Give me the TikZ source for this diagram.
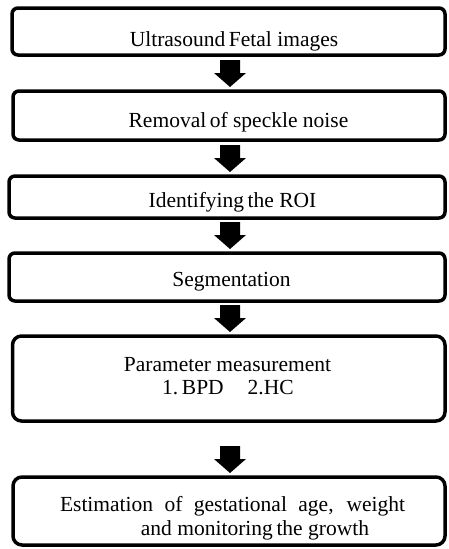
\documentclass[tikz,border=0pt]{standalone}
\usepackage{fontspec}
\setmainfont{Liberation Serif}
\usetikzlibrary{calc}
\tikzset{
  box/.style={draw=black, line width=3.5pt, rounded corners=6pt, inner sep=0pt, outer sep=0pt, fill=white},
  bigbox/.style={box, rounded corners=9pt},
  lbl/.style={anchor=base, inner sep=0pt, outer sep=0pt, font=\fontsize{21.5}{24}\selectfont},
}
% fat block arrow ending just above the target node
\newcommand\fatarrow[2]{%
  \fill[black] let \p1=([yshift=4pt]#2.north), \p3=(ax) in
    (\x3-10pt,\y1+27pt) -- (\x3+10pt,\y1+27pt) -- (\x3+10pt,\y1+14pt) --
    (\x3+16pt,\y1+14pt) -- (\x3,\y1) -- (\x3-16pt,\y1+14pt) --
    (\x3-10pt,\y1+14pt) -- cycle;}
\begin{document}
\begin{tikzpicture}[x=1pt,y=-1pt]
\useasboundingbox (0,0) rectangle (448,549);
\coordinate (ax) at (230,0);
% boxes
\node[box, minimum width=433pt, minimum height=47pt] (b1) at (228.5,31.5) {};
\node[box, minimum width=432pt, minimum height=49pt] (b2) at (229,115.5) {};
\node[box, minimum width=436pt, minimum height=42pt] (b3) at (227,197) {};
\node[box, minimum width=436pt, minimum height=48pt] (b4) at (227,277) {};
\node[bigbox, minimum width=432.5pt, minimum height=85pt] (b5) at (228.75,378.5) {};
\node[bigbox, minimum width=432pt, minimum height=68pt] (b6) at (229,511) {};
% texts
\node[lbl] (t1) at (234,46) {Ultrasound\,Fetal images};
\node[lbl] (t2) at (238.5,127) {Removal\,of speckle noise};
\node[lbl] (t3) at (232.5,207) {Identifying\,the ROI};
\node[lbl] (t4) at (231.5,286) {Segmentation};
\node[lbl] (t5a) at (227.5,371) {Parameter measurement};
\node[lbl] (t5b) at (228,394) {1.\,BPD\hspace{24pt}2.HC};
\node[lbl] (t6a) at (232.5,511) {\makebox[345pt][s]{Estimation of gestational age, weight}};
\node[lbl] (t6b) at (255,535) {and monitoring\,the growth};
% arrows
\fatarrow{b1}{b2}
\fatarrow{b2}{b3}
\fatarrow{b3}{b4}
\fatarrow{b4}{b5}
\fatarrow{b5}{b6}
\end{tikzpicture}
\end{document}
